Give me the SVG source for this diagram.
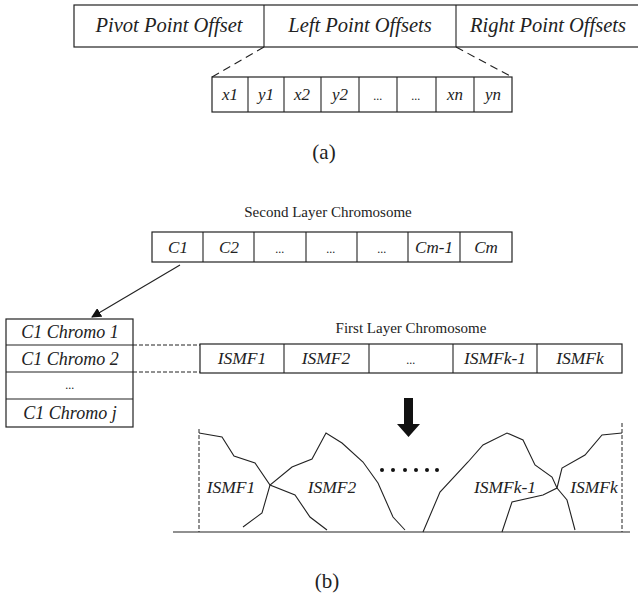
<svg xmlns="http://www.w3.org/2000/svg" width="638" height="598" viewBox="0 0 638 598">
<style>
.box{fill:#fff;stroke:#222;stroke-width:1.2}
.ln{fill:none;stroke:#222;stroke-width:1.1}
.dash{fill:none;stroke:#222;stroke-width:1.1;stroke-dasharray:8 5}
.dsh{fill:none;stroke:#222;stroke-width:1;stroke-dasharray:4 2}
.it{font-family:"Liberation Serif",serif;font-style:italic;fill:#222;text-anchor:middle}
.rm{font-family:"Liberation Serif",serif;fill:#222;text-anchor:middle}
.el{font-size:12px}
</style>
<defs>
<marker id="ah" markerWidth="10" markerHeight="10" refX="9" refY="5" orient="auto" markerUnits="userSpaceOnUse" viewBox="0 0 10 10"><path d="M0,0 L10,5 L0,10 z" fill="#111"/></marker>
</defs>
<rect width="638" height="598" fill="#fff"/>

<g id="top-chromosome">
<rect class="box" x="74" y="5" width="566" height="42"/>
<line class="ln" x1="264" y1="5" x2="264" y2="47"/>
<line class="ln" x1="456" y1="5" x2="456" y2="47"/>
<text class="it" x="169" y="32" font-size="20.5">Pivot Point Offset</text>
<text class="it" x="360" y="32" font-size="20.5">Left Point Offsets</text>
<text class="it" x="548" y="32" font-size="20.5">Right Point Offsets</text>
</g>

<g id="offsets">
<rect class="box" x="212" y="77" width="300" height="35"/>
<line class="ln" x1="248" y1="77" x2="248" y2="112"/>
<line class="ln" x1="284" y1="77" x2="284" y2="112"/>
<line class="ln" x1="321" y1="77" x2="321" y2="112" stroke-width="2"/>
<line class="ln" x1="359" y1="77" x2="359" y2="112"/>
<line class="ln" x1="397" y1="77" x2="397" y2="112"/>
<line class="ln" x1="436" y1="77" x2="436" y2="112"/>
<line class="ln" x1="474" y1="77" x2="474" y2="112"/>
<g class="it" font-size="17">
<text x="230" y="100">x1</text>
<text x="266" y="100">y1</text>
<text x="302" y="100">x2</text>
<text x="340" y="100">y2</text>
<text x="378" y="100" class="el">...</text>
<text x="416" y="100" class="el">...</text>
<text x="455" y="100">xn</text>
<text x="493" y="100">yn</text>
</g>
</g>

<text class="rm" x="324" y="159" font-size="21">(a)</text>

<g id="second-layer">
<text class="rm" x="328" y="217" font-size="15">Second Layer Chromosome</text>
<rect class="box" x="152" y="232" width="360" height="30"/>
<line class="ln" x1="203" y1="232" x2="203" y2="262"/>
<line class="ln" x1="254" y1="232" x2="254" y2="262"/>
<line class="ln" x1="306" y1="232" x2="306" y2="262" stroke-width="2"/>
<line class="ln" x1="357" y1="232" x2="357" y2="262"/>
<line class="ln" x1="408" y1="232" x2="408" y2="262"/>
<line class="ln" x1="460" y1="232" x2="460" y2="262"/>
<g class="it" font-size="17">
<text x="178" y="253">C1</text>
<text x="229" y="253">C2</text>
<text x="280" y="253" class="el">...</text>
<text x="331" y="253" class="el">...</text>
<text x="382" y="253" class="el">...</text>
<text x="434" y="253">Cm-1</text>
<text x="486" y="253">Cm</text>
</g>
</g>

<g id="c1-chromos">
<rect class="box" x="6" y="319" width="127" height="108"/>
<line class="ln" x1="6" y1="345" x2="133" y2="345"/>
<line class="ln" x1="6" y1="372" x2="133" y2="372"/>
<line class="ln" x1="6" y1="399" x2="133" y2="399"/>
<g class="it" font-size="18">
<text x="70" y="338">C1 Chromo 1</text>
<text x="70" y="365">C1 Chromo 2</text>
<text x="70" y="389" class="el">...</text>
<text x="70" y="419">C1 Chromo j</text>
</g>
</g>

<g id="first-layer">
<text class="rm" x="411" y="333" font-size="15">First Layer Chromosome</text>
<rect class="box" x="200" y="344" width="422" height="29"/>
<line class="ln" x1="284" y1="344" x2="284" y2="373"/>
<line class="ln" x1="369" y1="344" x2="369" y2="373"/>
<line class="ln" x1="453" y1="344" x2="453" y2="373"/>
<line class="ln" x1="537" y1="344" x2="537" y2="373"/>
<g class="it" font-size="17.5">
<text x="242" y="364">ISMF1</text>
<text x="326" y="364">ISMF2</text>
<text x="411" y="364" class="el">...</text>
<text x="495" y="364">ISMFk-1</text>
<text x="580" y="364">ISMFk</text>
</g>
</g>

<g id="membership-functions">
<line class="ln" x1="173" y1="532" x2="630" y2="532"/>
<line class="dsh" x1="199" y1="429" x2="199" y2="532"/>
<line class="dsh" x1="622" y1="423" x2="622" y2="532"/>
<polyline class="ln" points="199,433 222,437 234,456 255,463 270,485 295,495 310,517 327,530"/>
<polyline class="ln" points="243,527 262,513 270,485 292,467 312,459 326,433 342,443 363,462 378,483 393,517 405,530"/>
<polyline class="ln" points="423,532 440,492 468,462 483,445 507,433 523,440 535,465 552,477 557,488 567,500 575,530"/>
<polyline class="ln" points="502,532 512,502 543,495 557,488 562,468 585,455 602,435 622,433"/>
<g class="it" font-size="17.5">
<text x="231" y="493">ISMF1</text>
<text x="332" y="493">ISMF2</text>
<text x="505" y="493">ISMFk-1</text>
<text x="594" y="493">ISMFk</text>
</g>
<g fill="#111">
<circle cx="382" cy="470" r="2"/>
<circle cx="393" cy="470" r="2"/>
<circle cx="405" cy="470" r="2"/>
<circle cx="416" cy="470" r="2"/>
<circle cx="427" cy="470" r="2"/>
<circle cx="437" cy="470" r="2"/>
</g>
</g>

<g id="connectors">
<line class="dash" x1="264" y1="47" x2="212" y2="77"/>
<line class="dash" x1="456" y1="47" x2="512" y2="77"/>
<line class="ln" x1="180" y1="265" x2="92" y2="317" marker-end="url(#ah)"/>
<line class="dsh" x1="133" y1="345" x2="200" y2="345"/>
<line class="dsh" x1="133" y1="372" x2="200" y2="372"/>
<path d="M404,398 H413 V424 H420 L408.5,437 L397,424 H404 Z" fill="#111"/>
</g>

<text class="rm" x="327" y="588" font-size="21">(b)</text>
</svg>
